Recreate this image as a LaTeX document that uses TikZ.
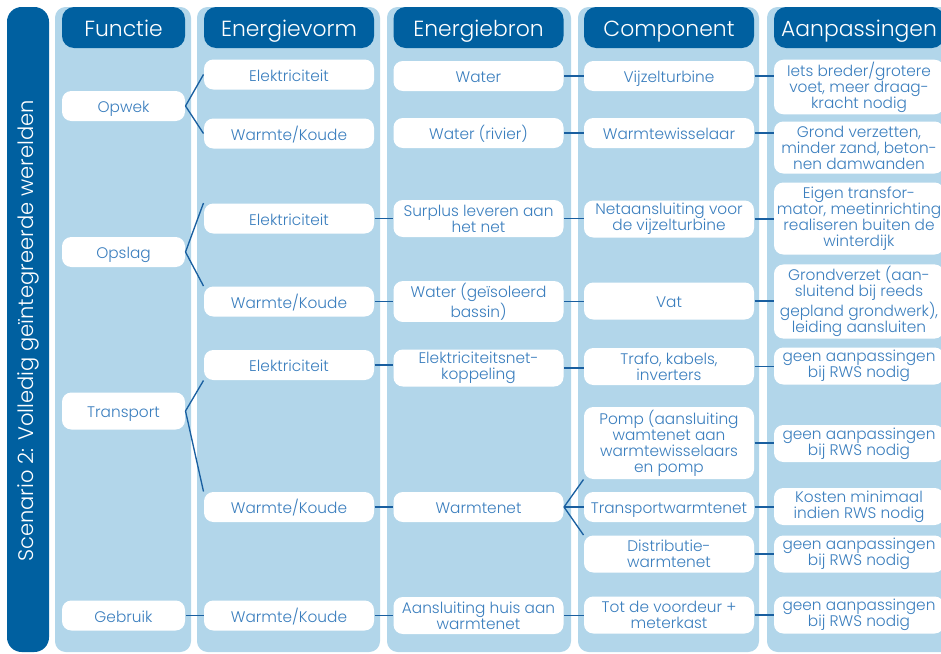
\documentclass[tikz,border=0pt]{standalone}
\usepackage{fontspec}
\IfFontExistsTF{Poppins Light}{\setmainfont{Poppins Light}}{\setmainfont{Poppins}}

\definecolor{dkblue}{RGB}{0,96,160}
\definecolor{ltblue}{RGB}{178,214,234}
\definecolor{txtblue}{RGB}{58,126,190}
\definecolor{lnblue}{RGB}{25,95,160}

\tikzset{every picture/.style={line width=0.75pt}}
\tikzset{
  colbg/.style={fill=ltblue, rounded corners=8pt},
  hdr/.style={fill=dkblue, text=white, rounded corners=9pt, minimum height=30.75pt, minimum width=127.5pt, inner sep=0pt, text height=16pt, text depth=3pt, font=\fontsize{16.4}{19}\selectfont},
  cellbox/.style={fill=white, text=txtblue, rounded corners=7pt, minimum height=22.5pt, minimum width=127.5pt, inner sep=1.5pt, align=center, text height=12.5pt, text depth=2.5pt, font=\fontsize{11.5}{12}\selectfont},
  funcbox/.style={cellbox, minimum width=92.25pt},
  multi/.style={text height=, text depth=},
  twoline/.style={multi, minimum height=27.75pt},
  threeline/.style={multi, minimum height=39pt},
  fourline/.style={multi, minimum height=54pt},
  link/.style={draw=lnblue, line width=1pt},
}

\begin{document}
\begin{tikzpicture}[x=0.75pt,y=0.75pt,yscale=-1,xscale=1]
\useasboundingbox (0,0) rectangle (941,653);

%Shape: Rounded Rect (side bar)
\fill [dkblue, rounded corners=11pt] (7,7) rectangle (49,652) ;
% Text Node
\node [rotate=90, text=white, font=\fontsize{15.8}{18}\selectfont] (scen) at (28,331) {Scenario 2: Volledig geïntegreerde werelden};

%Shape: Rounded Rect (columns)
\fill [colbg] (55,7) rectangle (191,652) ;
\fill [colbg] (197,7) rectangle (380,652) ;
\fill [colbg] (387,7) rectangle (571,652) ;
\fill [colbg] (578,7) rectangle (759,652) ;
\fill [colbg] (767,7) rectangle (960,652) ;

% Headers
\node [hdr, minimum width=92.25pt] (hfunc) at (123.5,27.5) {Functie};
\node [hdr] (hvorm) at (289,27.5) {Energievorm};
\node [hdr] (hbron) at (478.5,27.5) {Energiebron};
\node [hdr] (hcomp) at (669,27.5) {Component};
\node [hdr] (haanp) at (859,27.5) {Aanpassingen};

% Text Node (Functie)
\node [funcbox] (opwek) at (123.5,106) {Opwek};
\node [funcbox] (opslag) at (123.5,252) {Opslag};
\node [funcbox, minimum height=27.75pt] (transport) at (123.5,411) {Transport};
\node [funcbox] (gebruik) at (123.5,615.5) {Gebruik};

% Text Node (Energievorm)
\node [cellbox] (elek1) at (289,74.5) {Elektriciteit};
\node [cellbox] (wk1) at (289,133.5) {Warmte/Koude};
\node [cellbox] (elek2) at (289,218.5) {Elektriciteit};
\node [cellbox] (wk2) at (289,301.5) {Warmte/Koude};
\node [cellbox] (elek3) at (289,365) {Elektriciteit};
\node [cellbox] (wk3) at (289,507) {Warmte/Koude};
\node [cellbox] (wk4) at (289,615.5) {Warmte/Koude};

% Text Node (Energiebron)
\node [cellbox] (water) at (478.5,76) {Water};
\node [cellbox] (rivier) at (478.5,133) {Water (rivier)};
\node [cellbox, twoline] (surplus) at (478.5,218.5) {Surplus leveren aan\\het net};
\node [cellbox, twoline] (bassin) at (478.5,301.5) {Water (geïsoleerd\\bassin)};
\node [cellbox, twoline] (koppeling) at (478.5,368) {Elektriciteitsnet-\\koppeling};
\node [cellbox] (warmtenet) at (478.5,507) {Warmtenet};
\node [cellbox, twoline] (aansluiting) at (478.5,615.5) {Aansluiting huis aan\\warmtenet};

% Text Node (Component)
\node [cellbox] (vijzel) at (669,76) {Vijzelturbine};
\node [cellbox] (wisselaar) at (669,133) {Warmtewisselaar};
\node [cellbox, twoline] (netaansl) at (669,219) {Netaansluiting voor\\de vijzelturbine};
\node [cellbox, minimum height=27.75pt] (vat) at (669,301) {Vat};
\node [cellbox, twoline] (trafo) at (669,366.5) {Trafo, kabels,\\inverters};
\node [cellbox, fourline] (pomp) at (669,443) {Pomp (aansluiting\\wamtenet aan\\warmtewisselaars\\en pomp};
\node [cellbox] (transpwn) at (669,507) {Transportwarmtenet};
\node [cellbox, twoline] (distrib) at (669,554) {Distributie-\\warmtenet};
\node [cellbox, twoline] (voordeur) at (669,615) {Tot de voordeur +\\meterkast};

% Text Node (Aanpassingen)
\node [cellbox, threeline] (iets) at (859,87) {Iets breder/grotere\\voet, meer draag-\\kracht nodig};
\node [cellbox, threeline] (grond) at (859,147.5) {Grond verzetten,\\minder zand, beton-\\nen damwanden};
\node [cellbox, fourline] (eigen) at (859,218.5) {Eigen transfor-\\mator, meetinrichting\\realiseren buiten de\\winterdijk};
\node [cellbox, fourline] (grondverzet) at (859,301.5) {Grondverzet (aan-\\sluitend bij reeds\\gepland grondwerk),\\leiding aansluiten};
\node [cellbox, twoline] (geen1) at (859,366) {geen aanpassingen\\bij RWS nodig};
\node [cellbox, twoline] (geen2) at (859,443.5) {geen aanpassingen\\bij RWS nodig};
\node [cellbox, twoline] (kosten) at (859,506.5) {Kosten minimaal\\indien RWS nodig};
\node [cellbox, twoline] (geen3) at (859,554) {geen aanpassingen\\bij RWS nodig};
\node [cellbox, twoline] (geen4) at (859,615) {geen aanpassingen\\bij RWS nodig};

%Straight Lines (Functie - Energievorm)
\draw [link] (opwek.east) -- (elek1.west) ;
\draw [link] (opwek.east) -- (wk1.west) ;
\draw [link] (opslag.east) -- (elek2.north west) ;
\draw [link] (opslag.east) -- (wk2.north west) ;
\draw [link] (transport.east) -- (elek3.south west) ;
\draw [link] (transport.east) -- (wk3.north west) ;
\draw [link] (gebruik.east) -- (gebruik.east -| wk4.west) ;

%Straight Lines (Energievorm - Energiebron)
\draw [link] (elek2.east) -- (elek2.east -| surplus.west) ;
\draw [link] (wk2.east) -- (wk2.east -| bassin.west) ;
\draw [link] (elek3.east) -- (elek3.east -| koppeling.west) ;
\draw [link] (wk3.east) -- (wk3.east -| warmtenet.west) ;
\draw [link] (wk4.east) -- (wk4.east -| aansluiting.west) ;

%Straight Lines (Energiebron - Component)
\draw [link] (water.east) -- (water.east -| vijzel.west) ;
\draw [link] (rivier.east) -- (rivier.east -| wisselaar.west) ;
\draw [link] (surplus.east) -- (surplus.east -| netaansl.west) ;
\draw [link] (bassin.east) -- (bassin.east -| vat.west) ;
\draw [link] (koppeling.east) -- (koppeling.east -| trafo.west) ;
\draw [link] (warmtenet.east) -- (pomp.south west) ;
\draw [link] (warmtenet.east) -- (warmtenet.east -| transpwn.west) ;
\draw [link] (warmtenet.east) -- (distrib.north west) ;
\draw [link] (aansluiting.east) -- (aansluiting.east -| voordeur.west) ;

%Straight Lines (Component - Aanpassingen)
\draw [link] (vijzel.east) -- (vijzel.east -| iets.west) ;
\draw [link] (wisselaar.east) -- (wisselaar.east -| grond.west) ;
\draw [link] (netaansl.east) -- (netaansl.east -| eigen.west) ;
\draw [link] (vat.east) -- (vat.east -| grondverzet.west) ;
\draw [link] (trafo.east) -- (trafo.east -| geen1.west) ;
\draw [link] (pomp.east) -- (pomp.east -| geen2.west) ;
\draw [link] (transpwn.east) -- (transpwn.east -| kosten.west) ;
\draw [link] (distrib.east) -- (distrib.east -| geen3.west) ;
\draw [link] (voordeur.east) -- (voordeur.east -| geen4.west) ;

\end{tikzpicture}
\end{document}
